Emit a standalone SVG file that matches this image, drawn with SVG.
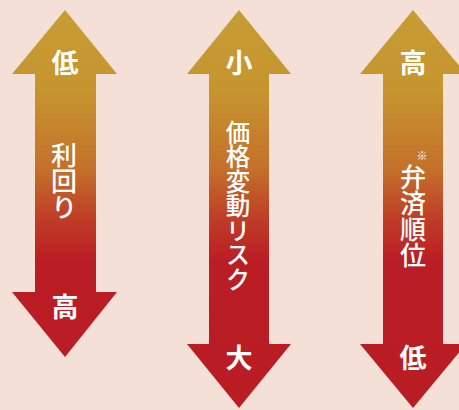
<svg xmlns="http://www.w3.org/2000/svg" width="459" height="410" viewBox="0 0 459 410">
<defs>
<linearGradient id="grad" gradientUnits="userSpaceOnUse" x1="0" y1="10" x2="0" y2="408">
<stop offset="0" stop-color="#C79C33"/>
<stop offset="0.2" stop-color="#C6952F"/>
<stop offset="0.4" stop-color="#C4702A"/>
<stop offset="0.52" stop-color="#BF3F27"/>
<stop offset="0.63" stop-color="#BB1D24"/>
<stop offset="1" stop-color="#BA1C24"/>
</linearGradient>
<style>
.arrow{fill:url(#grad);}
.lbl{fill:#FFFFFF;font-family:"Noto Sans CJK JP","Noto Sans CJK SC",sans-serif;font-weight:500;text-anchor:middle;}
.end{font-size:27px;font-weight:600;}
.vert{font-size:26px;writing-mode:vertical-rl;text-anchor:start;}
.vert.long{font-size:24.5px;}
.note{font-size:11px;}
</style>
</defs>
<rect width="459" height="410" fill="#F4E0D7"/>
<g id="arrow-yield">
<polygon class="arrow" points="65,10 117,74 96,74 96,292 117,292 65,357 12,292 35,292 35,74 12,74"/>
<text class="lbl end" x="65" y="73">低</text>
<text class="lbl vert" x="64" y="142">利回り</text>
<text class="lbl end" x="65" y="317">高</text>
</g>
<g id="arrow-risk">
<polygon class="arrow" points="239,10 291,74 269,74 269,344 291,344 239,408 187,344 209,344 209,74 187,74"/>
<text class="lbl end" x="239" y="73">小</text>
<text class="lbl vert long" x="238" y="120">価格変動リスク</text>
<text class="lbl end" x="239" y="368">大</text>
</g>
<g id="arrow-priority">
<polygon class="arrow" points="413,10 466,74 443,74 443,344 466,344 413,408 360,344 383,344 383,74 360,74"/>
<text class="lbl end" x="413" y="73">高</text>
<text class="lbl note" x="422" y="160">※</text>
<text class="lbl vert" x="413" y="164">弁済順位</text>
<text class="lbl end" x="413" y="368">低</text>
</g>
<g id="connectors"></g>
</svg>
